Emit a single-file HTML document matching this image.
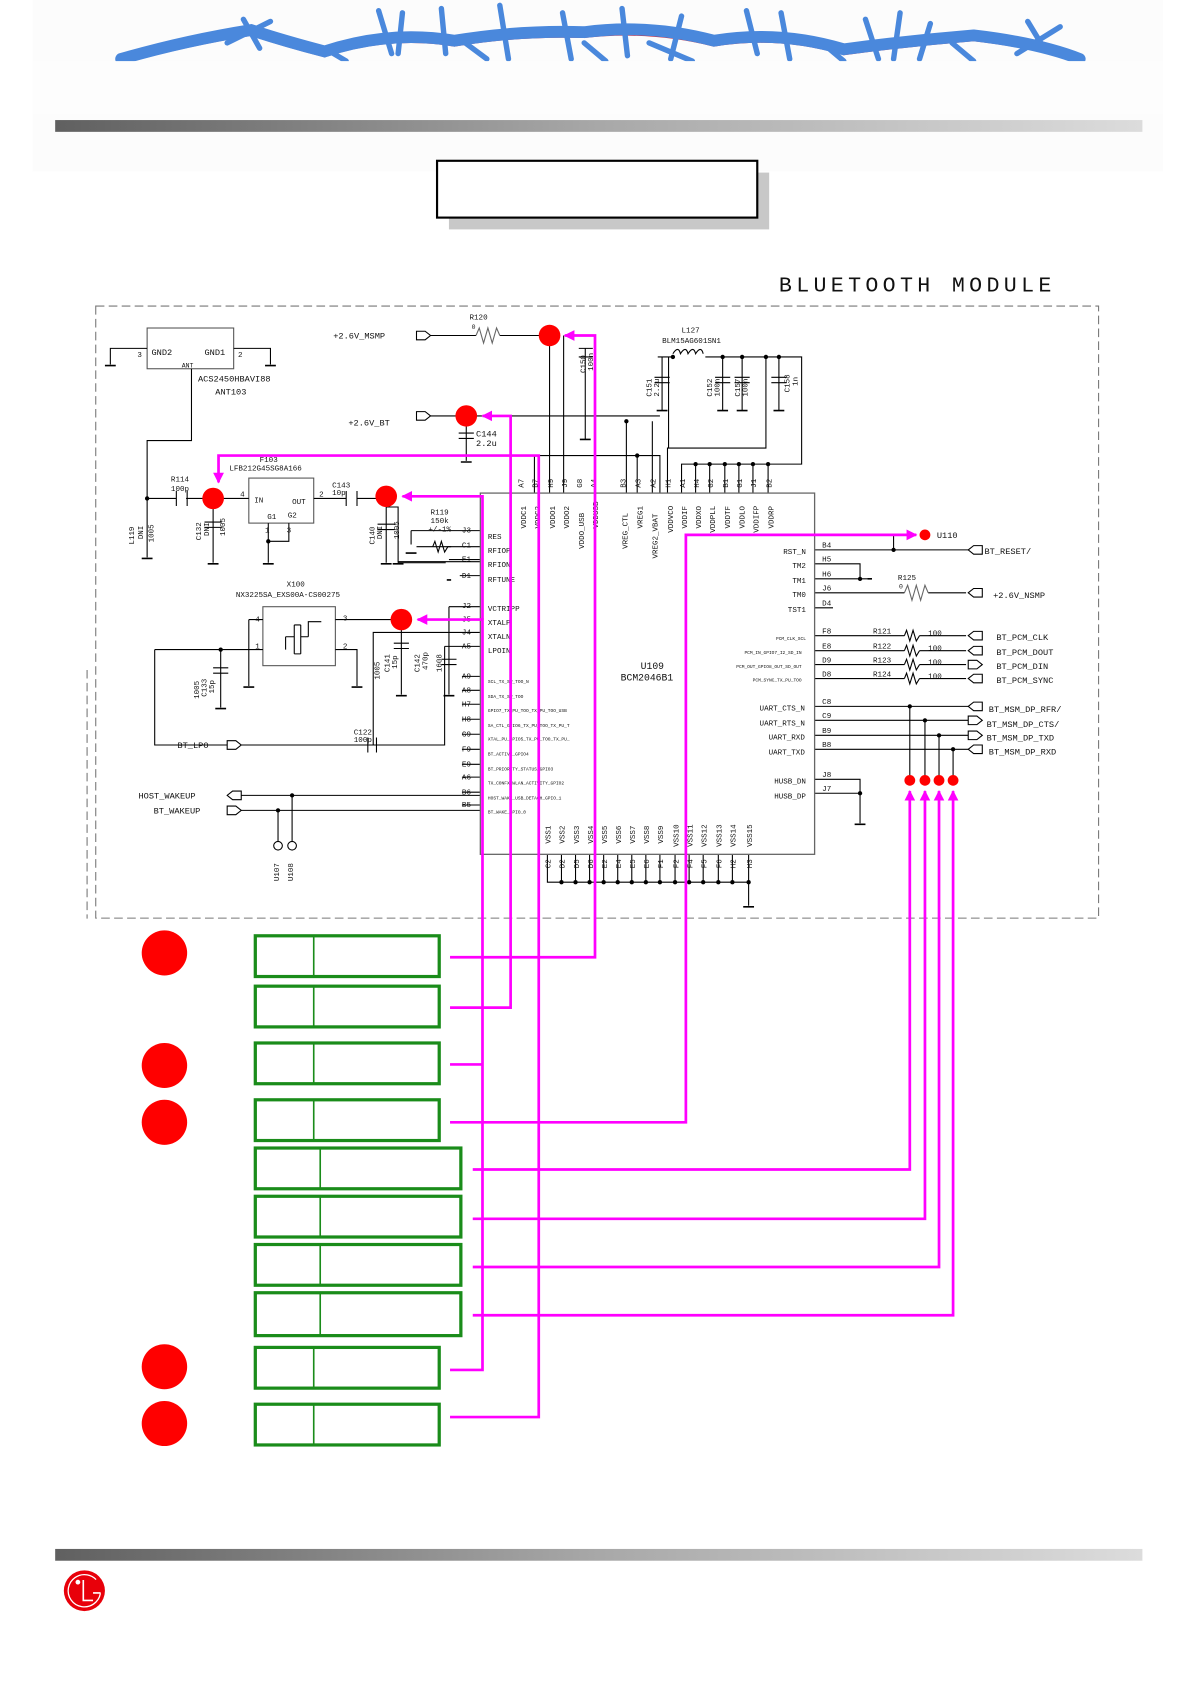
<!DOCTYPE html>
<html><head><meta charset="utf-8"><style>
html,body{margin:0;padding:0;background:#fff;}
svg{display:block;}
text{font-family:"Liberation Mono","DejaVu Sans Mono",monospace;fill:#111;}
</style></head><body>
<svg width="1190" height="1684" viewBox="0 0 1100 1571" preserveAspectRatio="none" xmlns="http://www.w3.org/2000/svg">
<defs>
<linearGradient id="gb" x1="0" x2="1"><stop offset="0" stop-color="#606060"/><stop offset="0.5" stop-color="#a8a8a8"/><stop offset="1" stop-color="#dcdcdc"/></linearGradient>
<marker id="ah" viewBox="0 0 10 10" refX="9" refY="5" markerWidth="4" markerHeight="4" orient="auto"><path d="M0 0L10 5L0 10z" fill="#ff00ff"/></marker>
</defs>
<rect x="30" y="0" width="1045" height="160" fill="#fcfcfc"/>
<!-- banner -->
<g stroke="#d03040" stroke-width="3" fill="none">
<path d="M115 58 Q170 42 232 32 Q262 42 300 52 Q360 32 420 42 Q480 32 540 34 Q600 27 660 42 Q720 32 780 50 Q840 42 900 37 Q960 44 1000 58"/>
</g>
<g stroke="#4a88dc" stroke-width="11" fill="none" stroke-linecap="round">
<path d="M112 55 Q170 38 232 28 Q262 38 300 48 Q360 28 420 38 Q480 28 540 30 Q600 22 660 38 Q720 28 780 46 Q840 38 900 33 Q960 40 998 55"/>
</g>
<g stroke="#4a88dc" stroke-width="5" fill="none" stroke-linecap="round">
<path d="M225 18 L240 45 M210 40 L250 20 M350 10 L362 50 M372 12 L368 50 M408 8 L412 50 M462 5 L470 55 M520 12 L528 55 M575 8 L580 52 M630 15 L620 55 M690 10 L700 50 M722 12 L730 55 M800 18 L812 55 M832 12 L826 55 M860 22 L850 55 M950 20 L965 45 M980 25 L940 50 M430 40 L450 55 M540 40 L560 57 M600 40 L640 57 M760 40 L780 57 M880 40 L900 57 M300 45 L320 57"/>
</g>
<rect x="30" y="57" width="1045" height="50" fill="#fdfdfd"/>
<rect x="51" y="112" width="1005" height="11" fill="url(#gb)"/>
<!-- title box -->
<rect x="415" y="161" width="296" height="53" fill="#c8c8c8"/>
<rect x="404" y="150" width="296" height="53" fill="#fff" stroke="#000" stroke-width="2"/>
<text x="720" y="272" style="font-family:'Liberation Mono',monospace;font-size:20px;letter-spacing:4px">BLUETOOTH MODULE</text>
<!-- dashed frame -->
<rect x="88.5" y="285.5" width="927" height="571" fill="none" stroke="#777" stroke-dasharray="8,4" stroke-width="1"/>
<line x1="80.5" y1="625" x2="80.5" y2="857" stroke="#777" stroke-dasharray="8,4"/>

<g stroke="#000" stroke-width="1" fill="none">
<rect x="136" y="306" width="80" height="38" stroke="#555"/>
<path d="M136 325 H102 V340 M216 325 H250 V340 M177 344 V411 H136 V520 M136 465 H163 M172 465 H200 M173 458 V472 M163 458 V472"/>
<rect x="230" y="446" width="60" height="42" stroke="#555"/>
<path d="M200 465 H230 M290 465 H320 M330 465 H360 M320 458V472 M330 458V472 M197 465 V525 M189 487 H205 M189 492 H205 M248 488 V525 M248 505 H267 V488 M357 465 V525 M349 489 H365 M349 494 H365 M357 473 H368 V525 M368 525 H412"/>
<path d="M380 495 V508 M380 495 H444 M385 510 H444 M415 522 H444 M425 537 H444 M368 524 H444"/>
<path d="M397 313 H440 M462 313 H508 M431 388 H398 M431 388 H610 M431 388 V430 M424 404 H438 M424 409 H438 M508 313 V460 M521 313 V460 M579 393 V460"/>
<path d="M535 325 H548 M535 333 H548 M541 325 V410"/>
<path d="M481 425 H610 V460 M494 425 V460 M589 425 V460 M603 393 V460"/>
<path d="M608 333 H622 M652 333 H741 V433 H630 V460 M618 333 V418 H617 V460 M612 333 V383 M605 352 H619 M605 357 H619 M668 333 V383 M661 352 H675 M661 357 H675 M686 333 V383 M679 352 H693 M679 357 H693 M708 333 V418 H617 M720 333 V383 M713 352 H727 M713 357 H727 M643 433 V460 M656 433 V460 M670 433 V460 M683 433 V460 M696 433 V460 M710 433 V460"/>
<rect x="243" y="566" width="67" height="55" stroke="#555"/>
<path d="M230 578 H243 M310 578 H371 M230 578 V640 M143 606 H243 M143 606 V695 H345 V590 H444 M310 606 H330 V640 M204 606 V660 M197 623 H211 M197 628 H211 M371 578 V648 M364 600 H378 M364 605 H378 M415 566 H444 M415 566 V648 M408 615 H422 M408 620 H422 M411 603 H444 M411 603 V695 H345"/>
<path d="M264 594 V606 M264 594 H272 M272 583 V610 M278 583 V610 M272 583 H278 M272 610 H278 M285 594 V580 H297 M278 594 H285"/>
<path d="M222 695 H340 M348 695 H411 M340 688 V702 M348 688 V702 M222 742 H444 M222 756 H444 M270 742 V785 M257 756 V785"/>
<path d="M427 631H444M427 644H444M427 657H444M427 671H444M427 685H444M427 699H444M427 713H444M427 725H444M427 739H444M427 751H444"/>
<path d="M753 513H895M753 526H795V540H806M753 540H795M753 553H836M858 553H893M753 567H770 M826 513V499 M753 593H836M850 593H893 M753 607H836M850 607H893 M753 620H836M850 620H893 M753 633H836M850 633H893 M753 659H895M753 672H895M753 686H895M753 699H895 M841 659V728M855 672V728M868 686V728M881 699V728 M753 727H795V768 M753 740H795"/>
<path d="M506 797V823H692 M519 797V823M532 797V823M545 797V823M558 797V823M571 797V823M584 797V823M597 797V823M610 797V823M624 797V823M637 797V823M650 797V823M664 797V823M677 797V823M692 797V845"/>
</g>
<g stroke="#666" fill="none">
<rect x="444" y="460" width="309" height="337" stroke-width="1.2"/>
<path d="M440 313 L443 306 L447 320 L451 306 L455 320 L459 306 L462 313 M836 553 L839 546 L843 560 L847 546 L851 560 L855 546 L858 553"/>
<path d="M836 593l2-5 3 10 3-10 3 10 3-5M836 607l2-5 3 10 3-10 3 10 3-5M836 620l2-5 3 10 3-10 3 10 3-5M836 633l2-5 3 10 3-10 3 10 3-5" stroke="#000"/>
<path d="M400 510 l2-5 3 10 3-10 3 10 3-5 3 0" stroke="#000"/>
<path d="M622 330 q5-8 7 0 q5-8 7 0 q5-8 7 0 q5-8 7 0" stroke="#000"/>
</g>
<g fill="#fff" stroke="#000" stroke-width="1">
<path d="M385 309h8l5 4-5 4h-8z"/><path d="M385 384h8l5 4-5 4h-8z"/>
<path d="M210 691h8l5 4-5 4h-8z"/><path d="M210 752h8l5 4-5 4h-8z"/>
<path d="M223 738h-8l-5 4 5 4h8z"/>
<path d="M908 509h-8l-5 4 5 4h8z"/><path d="M908 549h-8l-5 4 5 4h8z"/>
<path d="M908 589h-8l-5 4 5 4h8z"/><path d="M908 603h-8l-5 4 5 4h8z"/><path d="M895 616h8l5 4-5 4h-8z"/><path d="M908 629h-8l-5 4 5 4h8z"/>
<path d="M908 655h-8l-5 4 5 4h8z"/><path d="M895 668h8l5 4-5 4h-8z"/><path d="M895 682h8l5 4-5 4h-8z"/><path d="M908 695h-8l-5 4 5 4h8z"/>
<circle cx="257" cy="789" r="4"/><circle cx="270" cy="789" r="4"/>
</g>
<g stroke="#000" stroke-width="1.5">
<path d="M97 341h10M245 341h10M131 521h10M192 526h10M243 526h10M352 526h10M363 526h10M375 516h10M413 541h4M536 410h10M426 431h10M607 383h10M663 383h10M681 383h10M715 383h10M225 641h10M325 641h10M199 661h10M366 649h10M410 649h10M802 540h4M790 769h10M687 846h10"/>
</g>
<g fill="#000">
<circle cx="136" cy="465" r="2"/><circle cx="248" cy="505" r="2"/><circle cx="204" cy="606" r="2"/><circle cx="270" cy="742" r="2"/><circle cx="257" cy="756" r="2"/>
<circle cx="579" cy="393" r="2"/><circle cx="589" cy="425" r="2"/><circle cx="622" cy="333" r="2"/><circle cx="668" cy="333" r="2"/><circle cx="686" cy="333" r="2"/><circle cx="708" cy="333" r="2"/><circle cx="720" cy="333" r="2"/>
<circle cx="643" cy="433" r="2"/><circle cx="656" cy="433" r="2"/><circle cx="670" cy="433" r="2"/><circle cx="683" cy="433" r="2"/><circle cx="696" cy="433" r="2"/><circle cx="710" cy="433" r="2"/>
<circle cx="826" cy="513" r="2"/><circle cx="795" cy="540" r="2"/><circle cx="795" cy="740" r="2"/>
<circle cx="841" cy="659" r="2"/><circle cx="855" cy="672" r="2"/><circle cx="868" cy="686" r="2"/><circle cx="881" cy="699" r="2"/>
<circle cx="519" cy="823" r="2"/><circle cx="532" cy="823" r="2"/><circle cx="545" cy="823" r="2"/><circle cx="558" cy="823" r="2"/><circle cx="571" cy="823" r="2"/><circle cx="584" cy="823" r="2"/><circle cx="597" cy="823" r="2"/><circle cx="610" cy="823" r="2"/><circle cx="624" cy="823" r="2"/><circle cx="637" cy="823" r="2"/><circle cx="650" cy="823" r="2"/><circle cx="664" cy="823" r="2"/><circle cx="677" cy="823" r="2"/><circle cx="692" cy="823" r="2"/>
</g>

<g font-size="8">
<text x="140" y="331">GND2</text><text x="189" y="331">GND1</text><text x="168" y="343" font-size="6">ANT</text>
<text x="127" y="333" font-size="7">3</text><text x="220" y="333" font-size="7">2</text>
<text x="183" y="356">ACS2450HBAVI88</text><text x="199" y="368">ANT103</text>
<text x="308" y="316">+2.6V_MSMP</text><text x="434" y="298" font-size="7">R120</text><text x="436" y="307" font-size="6">0</text>
<text x="322" y="397">+2.6V_BT</text><text x="440" y="407">C144</text><text x="440" y="416">2.2u</text>
<text x="630" y="310" font-size="7">L127</text><text x="612" y="320" font-size="7">BLM15AG601SN1</text>
<text x="240" y="431" font-size="7">F103</text><text x="212" y="439" font-size="7">LFB212G45SG8A166</text>
<text x="158" y="449" font-size="7">R114</text><text x="158" y="458" font-size="7">100p</text>
<text x="307" y="455" font-size="7">C143</text><text x="307" y="462" font-size="7">10p</text>
<text x="235" y="469" font-size="7">IN</text><text x="270" y="470" font-size="7">OUT</text><text x="247" y="484" font-size="7">G1</text><text x="266" y="483" font-size="7">G2</text>
<text x="222" y="463" font-size="7">4</text><text x="295" y="463" font-size="7">2</text><text x="245" y="497" font-size="7">1</text><text x="265" y="497" font-size="7">3</text>
<text x="398" y="480" font-size="7">R119</text><text x="398" y="488" font-size="7">150k</text><text x="396" y="496" font-size="7">+/-1%</text>
<text x="265" y="547" font-size="7">X100</text><text x="218" y="557" font-size="7">NX3225SA_EXS00A-CS00275</text>
<text x="236" y="580" font-size="7">4</text><text x="236" y="605" font-size="7">1</text><text x="317" y="579" font-size="7">3</text><text x="317" y="605" font-size="7">2</text>
<text x="164" y="698">BT_LPO</text><text x="327" y="685" font-size="7">C122</text><text x="327" y="692" font-size="7">100p</text>
<text x="128" y="745">HOST_WAKEUP</text><text x="142" y="759">BT_WAKEUP</text>
<text x="866" y="502">U110</text>
<text x="910" y="517">BT_RESET/</text><text x="830" y="541" font-size="7">R125</text><text x="831" y="549" font-size="6">0</text><text x="918" y="558">+2.6V_NSMP</text>
<text x="921" y="597">BT_PCM_CLK</text><text x="921" y="611">BT_PCM_DOUT</text><text x="921" y="624">BT_PCM_DIN</text><text x="921" y="637">BT_PCM_SYNC</text>
<text x="914" y="664">BT_MSM_DP_RFR/</text><text x="912" y="678">BT_MSM_DP_CTS/</text><text x="912" y="691">BT_MSM_DP_TXD</text><text x="914" y="704">BT_MSM_DP_RXD</text>
<text x="807" y="591" font-size="7">R121</text><text x="807" y="605" font-size="7">R122</text><text x="807" y="618" font-size="7">R123</text><text x="807" y="631" font-size="7">R124</text>
<text x="858" y="593" font-size="7">100</text><text x="858" y="607" font-size="7">100</text><text x="858" y="620" font-size="7">100</text><text x="858" y="633" font-size="7">100</text>
<text x="603" y="624" font-size="9" text-anchor="middle">U109</text><text x="598" y="635" font-size="9" text-anchor="middle">BCM2046B1</text>
</g>
<g font-size="7">
<text x="427" y="497">J3</text><text x="427" y="511">C1</text><text x="427" y="524">E1</text><text x="427" y="539">D1</text><text x="427" y="567">J2</text><text x="427" y="580">J5</text><text x="427" y="592">J4</text><text x="427" y="605">A5</text>
<text x="427" y="633">A9</text><text x="427" y="646">A8</text><text x="427" y="659">H7</text><text x="427" y="673">H8</text><text x="427" y="687">G9</text><text x="427" y="701">F9</text><text x="427" y="715">E9</text><text x="427" y="727">A6</text><text x="427" y="741">B6</text><text x="427" y="753">B5</text>
<text x="451" y="503">RES</text><text x="451" y="516">RFIOP</text><text x="451" y="529">RFION</text><text x="451" y="543">RFTUNE</text><text x="451" y="570">VCTRIPP</text><text x="451" y="583">XTALP</text><text x="451" y="596">XTALN</text><text x="451" y="609">LPOIN</text>
</g>
<g font-size="4.2">
<text x="451" y="637">SCL_TX_SW_TOO_N</text><text x="451" y="651">SDA_TX_SW_TOO</text><text x="451" y="664">GPIO7_TX_PU_TOO_TX_PU_TOO_USB</text><text x="451" y="678">SA_CTL_GPIO6_TX_PU_TOO_TX_PU_T</text><text x="451" y="691">XTAL_PU_GPIO5_TX_PU_TOO_TX_PU_</text><text x="451" y="705">BT_ACTIVE_GPIO4</text><text x="451" y="719">BT_PRIORITY_STATUS_GPIO3</text><text x="451" y="732">TX_CONFX_WLAN_ACTIVITY_GPIO2</text><text x="451" y="746">HOST_WAKE_USB_DETACH_GPIO_1</text><text x="451" y="759">BT_WAKE_GPIO_0</text>
<text x="745" y="597" text-anchor="end">PCM_CLK_SCL</text><text x="741" y="610" text-anchor="end">PCM_IN_GPIO7_I2_SD_IN</text><text x="741" y="623" text-anchor="end">PCM_OUT_GPIO8_OUT_SD_OUT</text><text x="741" y="636" text-anchor="end">PCM_SYNC_TX_PU_TOO</text>
</g>
<g font-size="7">
<text x="745" y="517" text-anchor="end">RST_N</text><text x="745" y="530" text-anchor="end">TM2</text><text x="745" y="544" text-anchor="end">TM1</text><text x="745" y="557" text-anchor="end">TM0</text><text x="745" y="571" text-anchor="end">TST1</text>
<text x="744" y="663" text-anchor="end">UART_CTS_N</text><text x="744" y="677" text-anchor="end">UART_RTS_N</text><text x="744" y="690" text-anchor="end">UART_RXD</text><text x="744" y="704" text-anchor="end">UART_TXD</text><text x="745" y="731" text-anchor="end">HUSB_DN</text><text x="745" y="745" text-anchor="end">HUSB_DP</text>
<text x="760" y="511">B4</text><text x="760" y="524">H5</text><text x="760" y="538">H6</text><text x="760" y="551">J6</text><text x="760" y="565">D4</text><text x="760" y="591">F8</text><text x="760" y="605">E8</text><text x="760" y="618">D9</text><text x="760" y="631">D8</text><text x="760" y="657">C8</text><text x="760" y="670">C9</text><text x="760" y="684">B9</text><text x="760" y="697">B8</text><text x="760" y="725">J8</text><text x="760" y="738">J7</text>
</g>
<g font-size="7">
<text transform="translate(484,455) rotate(-90)">A7</text><text transform="translate(497,455) rotate(-90)">B7</text><text transform="translate(511,455) rotate(-90)">H9</text><text transform="translate(524,455) rotate(-90)">J9</text><text transform="translate(538,455) rotate(-90)">G8</text><text transform="translate(551,455) rotate(-90)">A4</text><text transform="translate(578,455) rotate(-90)">B3</text><text transform="translate(592,455) rotate(-90)">A3</text><text transform="translate(606,455) rotate(-90)">A2</text><text transform="translate(620,455) rotate(-90)">H1</text><text transform="translate(633,455) rotate(-90)">A1</text><text transform="translate(646,455) rotate(-90)">H4</text><text transform="translate(659,455) rotate(-90)">G2</text><text transform="translate(673,455) rotate(-90)">B1</text><text transform="translate(686,455) rotate(-90)">G1</text><text transform="translate(699,455) rotate(-90)">J1</text><text transform="translate(713,455) rotate(-90)">B2</text>
<text transform="translate(486,493) rotate(-90)">VDDC1</text><text transform="translate(499,493) rotate(-90)">VDDC2</text><text transform="translate(513,493) rotate(-90)">VDDO1</text><text transform="translate(526,493) rotate(-90)">VDDO2</text><text transform="translate(540,512) rotate(-90)">VDDO_USB</text><text transform="translate(553,493) rotate(-90)">VDDUSB</text><text transform="translate(580,512) rotate(-90)">VREG_CTL</text><text transform="translate(594,493) rotate(-90)">VREG1</text><text transform="translate(608,521) rotate(-90)">VREG2_VBAT</text><text transform="translate(622,497) rotate(-90)">VDDVCO</text><text transform="translate(635,493) rotate(-90)">VDDIF</text><text transform="translate(648,493) rotate(-90)">VDDXO</text><text transform="translate(661,497) rotate(-90)">VDDPLL</text><text transform="translate(675,493) rotate(-90)">VDDTF</text><text transform="translate(688,493) rotate(-90)">VDDLO</text><text transform="translate(701,497) rotate(-90)">VDDIFP</text><text transform="translate(715,493) rotate(-90)">VDDRP</text>
<text transform="translate(509,787) rotate(-90)">VSS1</text><text transform="translate(522,787) rotate(-90)">VSS2</text><text transform="translate(535,787) rotate(-90)">VSS3</text><text transform="translate(548,787) rotate(-90)">VSS4</text><text transform="translate(561,787) rotate(-90)">VSS5</text><text transform="translate(574,787) rotate(-90)">VSS6</text><text transform="translate(587,787) rotate(-90)">VSS7</text><text transform="translate(600,787) rotate(-90)">VSS8</text><text transform="translate(613,787) rotate(-90)">VSS9</text><text transform="translate(627,790) rotate(-90)">VSS10</text><text transform="translate(640,790) rotate(-90)">VSS11</text><text transform="translate(653,790) rotate(-90)">VSS12</text><text transform="translate(667,790) rotate(-90)">VSS13</text><text transform="translate(680,790) rotate(-90)">VSS14</text><text transform="translate(695,790) rotate(-90)">VSS15</text>
<text transform="translate(509,810) rotate(-90)">C2</text><text transform="translate(522,810) rotate(-90)">D2</text><text transform="translate(535,810) rotate(-90)">D5</text><text transform="translate(548,810) rotate(-90)">D6</text><text transform="translate(561,810) rotate(-90)">E2</text><text transform="translate(574,810) rotate(-90)">E4</text><text transform="translate(587,810) rotate(-90)">E5</text><text transform="translate(600,810) rotate(-90)">E6</text><text transform="translate(613,810) rotate(-90)">F1</text><text transform="translate(627,810) rotate(-90)">F2</text><text transform="translate(640,810) rotate(-90)">F4</text><text transform="translate(653,810) rotate(-90)">F5</text><text transform="translate(667,810) rotate(-90)">F6</text><text transform="translate(680,810) rotate(-90)">H2</text><text transform="translate(695,810) rotate(-90)">H3</text>
<text transform="translate(124,508) rotate(-90)">L119</text><text transform="translate(132,503) rotate(-90)">DNI</text><text transform="translate(142,506) rotate(-90)">1005</text>
<text transform="translate(186,504) rotate(-90)">C132</text><text transform="translate(193,500) rotate(-90)">DNI</text><text transform="translate(208,500) rotate(-90)">1005</text>
<text transform="translate(346,508) rotate(-90)">C140</text><text transform="translate(353,503) rotate(-90)">DNI</text><text transform="translate(369,503) rotate(-90)">1005</text>
<text transform="translate(541,348) rotate(-90)">C150</text><text transform="translate(548,346) rotate(-90)">100n</text>
<text transform="translate(602,370) rotate(-90)">C151</text><text transform="translate(609,370) rotate(-90)">2.2u</text>
<text transform="translate(658,370) rotate(-90)">C152</text><text transform="translate(665,370) rotate(-90)">100n</text>
<text transform="translate(684,370) rotate(-90)">C157</text><text transform="translate(691,370) rotate(-90)">100n</text>
<text transform="translate(730,366) rotate(-90)">C158</text><text transform="translate(737,360) rotate(-90)">1n</text>
<text transform="translate(184,652) rotate(-90)">1005</text><text transform="translate(191,650) rotate(-90)">C133</text><text transform="translate(198,647) rotate(-90)">15p</text>
<text transform="translate(351,634) rotate(-90)">1005</text><text transform="translate(360,627) rotate(-90)">C141</text><text transform="translate(367,624) rotate(-90)">15p</text>
<text transform="translate(388,627) rotate(-90)">C142</text><text transform="translate(395,625) rotate(-90)">470p</text><text transform="translate(408,627) rotate(-90)">1608</text>
<text transform="translate(258,822) rotate(-90)">U107</text><text transform="translate(271,822) rotate(-90)">U108</text>
</g>

<g stroke="#ff00ff" stroke-width="2.5" fill="none">
<path d="M416 893 H550 V313 H522" marker-end="url(#ah)"/>
<path d="M416 940 H472 V388 H446" marker-end="url(#ah)"/>
<path d="M416 993 H446"/>
<path d="M416 1278 H446 V578 H386" marker-end="url(#ah)"/>
<path d="M446 578 V463 H372" marker-end="url(#ah)"/>
<path d="M416 1322 H498 V425 H202 V450" marker-end="url(#ah)"/>
<path d="M416 1047 H634 V499 H847" marker-end="url(#ah)"/>
<path d="M437 1091 H841 V738" marker-end="url(#ah)"/>
<path d="M437 1137 H855 V738" marker-end="url(#ah)"/>
<path d="M437 1182 H868 V738" marker-end="url(#ah)"/>
<path d="M437 1227 H881 V738" marker-end="url(#ah)"/>
</g>
<g fill="#ff0000">
<circle cx="508" cy="313" r="10"/><circle cx="431" cy="388" r="10"/><circle cx="197" cy="465" r="10"/><circle cx="357" cy="463" r="10"/><circle cx="371" cy="578" r="10"/>
<circle cx="855" cy="499" r="5"/><circle cx="841" cy="728" r="5"/><circle cx="855" cy="728" r="5"/><circle cx="868" cy="728" r="5"/><circle cx="881" cy="728" r="5"/>
<ellipse cx="152" cy="889" rx="21" ry="21"/><ellipse cx="152" cy="994" rx="21" ry="21"/><ellipse cx="152" cy="1047" rx="21" ry="21"/><ellipse cx="152" cy="1275" rx="21" ry="21"/><ellipse cx="152" cy="1328" rx="21" ry="21"/>
</g>
<g fill="none" stroke="#1a8c1a" stroke-width="3">
<rect x="236" y="873" width="170" height="38"/><rect x="236" y="920" width="170" height="38"/><rect x="236" y="973" width="170" height="38"/><rect x="236" y="1026" width="170" height="38"/>
<rect x="236" y="1071" width="190" height="38"/><rect x="236" y="1116" width="190" height="38"/><rect x="236" y="1161" width="190" height="38"/><rect x="236" y="1206" width="190" height="40"/>
<rect x="236" y="1257" width="170" height="38"/><rect x="236" y="1310" width="170" height="38"/>
</g>
<g stroke="#1a8c1a" stroke-width="1.5">
<path d="M290 873V911M290 920V958M290 973V1011M290 1026V1064M296 1071V1109M296 1116V1154M296 1161V1199M296 1206V1246M290 1257V1295M290 1310V1348"/>
</g>
<rect x="51" y="1445" width="1005" height="11" fill="url(#gb)"/>
<circle cx="78" cy="1484" r="19" fill="#e8000a"/>
<circle cx="78" cy="1484" r="15" fill="none" stroke="#fff" stroke-width="1.2" stroke-dasharray="80,14" transform="rotate(10 78 1484)"/>
<circle cx="72" cy="1476" r="2.2" fill="#fff"/>
<path d="M77 1474 V1493 H86 M86 1486 H93" stroke="#fff" stroke-width="1.5" fill="none"/>
</svg>
</body></html>
